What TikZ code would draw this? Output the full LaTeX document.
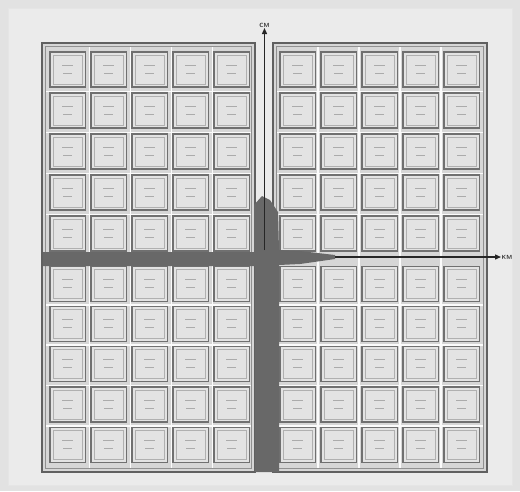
\documentclass[tikz,border=0pt]{standalone}
\usetikzlibrary{arrows.meta,calc}
\definecolor{bgc}{HTML}{E2E2E2}
\definecolor{paper}{HTML}{EBEBEB}
\definecolor{framec}{HTML}{606060}
\definecolor{cellc}{HTML}{707070}
\definecolor{cellfill}{HTML}{E3E3E3}
\definecolor{gapc}{HTML}{D6D6D6}
\definecolor{bandc}{HTML}{686868}
\definecolor{scrib}{HTML}{ABABAB}
\tikzset{
  cellbox/.style={draw=cellc, line width=1.5pt, fill=cellfill},
  cellinner/.style={draw=cellc!55, line width=0.6pt},
  framebox/.style={draw=framec, line width=1.2pt, fill=gapc},
  frameinner/.style={draw=framec!70, line width=0.6pt},
  gapline/.style={draw=white!97!gray, line width=1.3pt},
  axis/.style={draw=black!85, line width=1.3pt, -{Triangle[length=6pt,width=5pt]}},
  axlabel/.style={font=\sffamily\bfseries\fontsize{6}{6}\selectfont, text=black!80, inner sep=0.5pt},
  scribble/.style={draw=scrib, line width=0.7pt},
}
\begin{document}
\begin{tikzpicture}[x=1pt,y=-1pt]
\useasboundingbox (0,0) rectangle (520,491);
\fill[bgc] (0,0) rectangle (520,491);
\fill[paper] (8,8) rectangle (512,485);
\draw[white!80!gray, line width=1pt] (8,8) rectangle (512,485);
% two half frames
\draw[framebox] (42,43) rectangle (255,472);
\draw[frameinner] (45.5,46.5) rectangle (251.5,468.5);
\draw[framebox] (273,43) rectangle (487,472);
\draw[frameinner] (276.5,46.5) rectangle (483.5,468.5);
% gap lines
\foreach \x in {89.5,130.5,171.5,212.5}
  \draw[gapline] (\x,47) -- (\x,468);
\foreach \x in {318,359,400,441}
  \draw[gapline] (\x,47) -- (\x,468);
\foreach \y in {91.5,132.5,173.5,214.5,305,345,385.5,426}{
  \draw[gapline] (46,\y) -- (251,\y);
  \draw[gapline] (277,\y) -- (483,\y);
}
% cells
\foreach \cx in {50,91,132,173,214,280,321,362,403,444}{
  \foreach \cy in {52,93,134,175,216,266.5,306.5,346.5,387,427.5}{
    \draw[cellbox] (\cx,\cy) rectangle ++(35.5,35);
    \draw[cellinner] ($(\cx,\cy)+(3,3)$) rectangle ++(29.5,29);
    \draw[scribble] ($(\cx,\cy)+(12,13)$) -- ++(11,0);
    \draw[scribble] ($(\cx,\cy)+(13,21)$) -- ++(9,0);
  }
}
% dark cross bands
\fill[bandc] (254,205) -- (262,196) -- (270,200) -- (278,212) -- (279,250)
  -- (300,251) -- (335,255) -- (335,259) -- (300,264) -- (279,265)
  -- (279,472) -- (255,472) -- (255,266) -- (43,266) -- (43,252) -- (254,252) -- cycle;
% axes
\coordinate (vo) at (264.5,250);
\coordinate (vt) at (264.5,28);
\coordinate (ho) at (335,257);
\coordinate (ht) at (501,257);
\draw[axis] (vo) -- (vt);
\draw[axis] (ho) -- (ht);
\node[axlabel, anchor=south] (cm) at (vt) {CM};
\node[axlabel, anchor=west] (km) at (ht) {KM};
\end{tikzpicture}
\end{document}
